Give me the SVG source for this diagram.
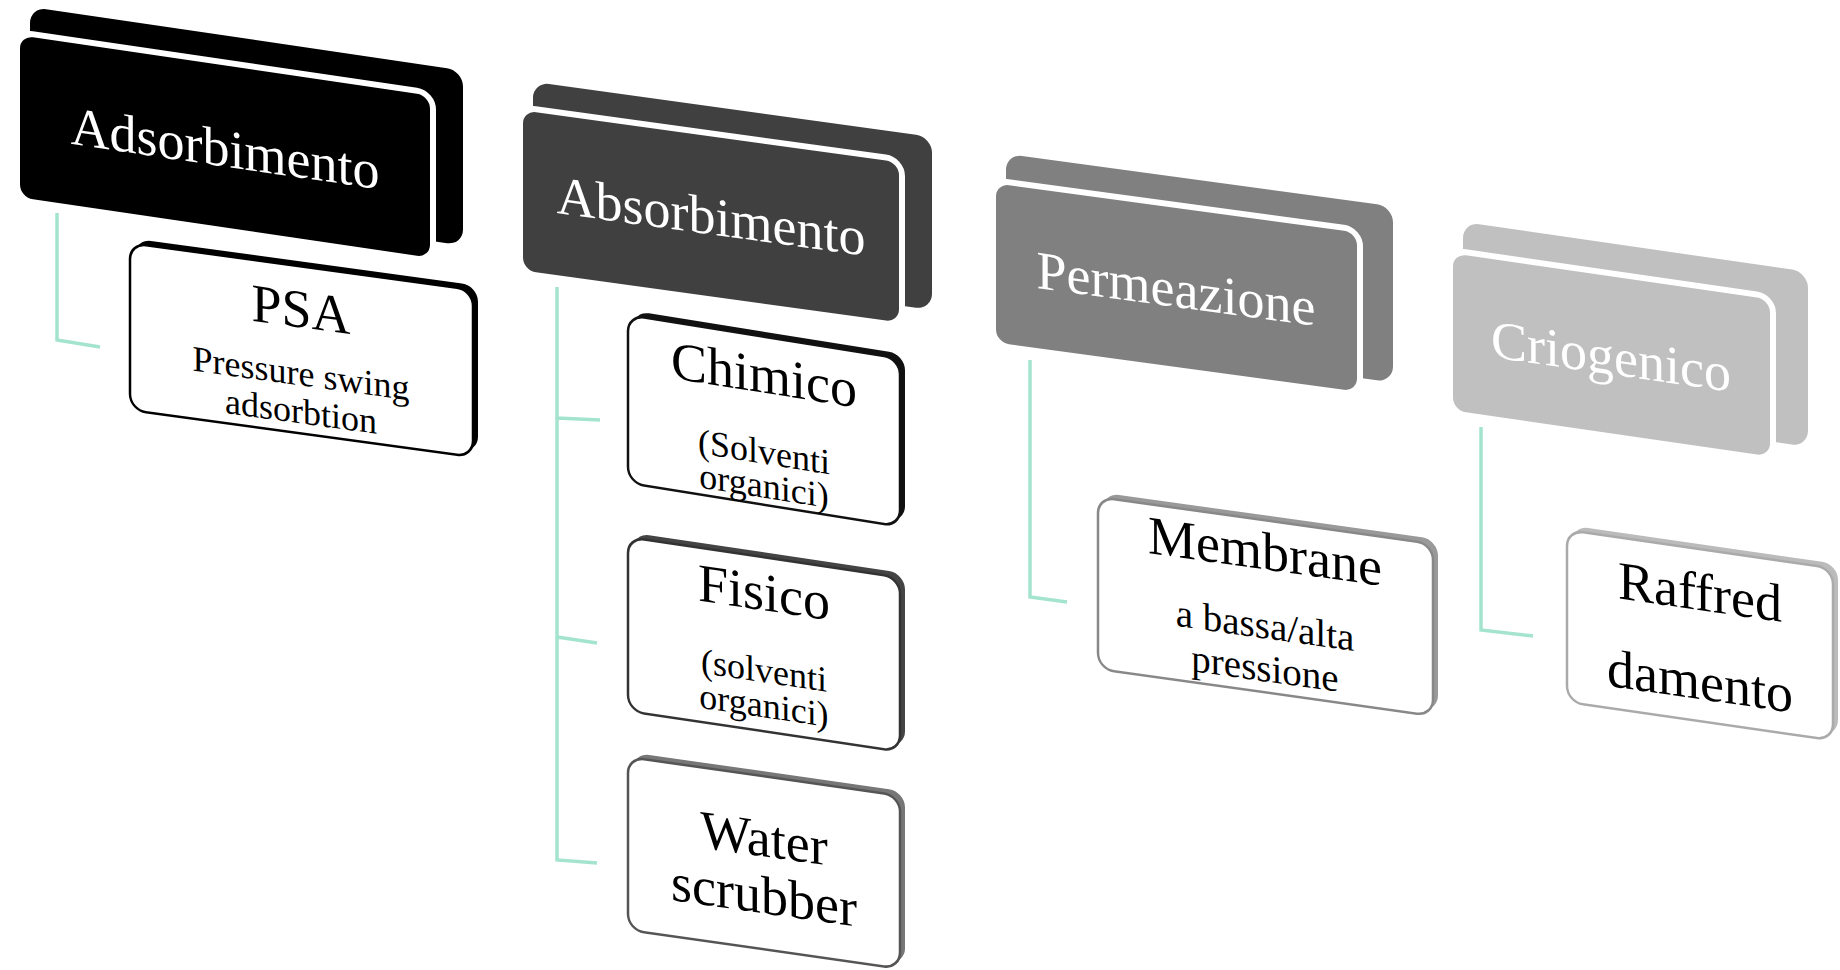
<svg xmlns="http://www.w3.org/2000/svg" width="1840" height="970" viewBox="0 0 1840 970">
<style>
text{font-family:"Liberation Serif","Times New Roman",serif;text-anchor:middle}
.hdr text{font-size:54px;fill:#fff}
.ch text{fill:#000}
.t{font-size:54px}
.s{font-size:36px}
.s2{font-size:39px}
.front{stroke:#fff;stroke-width:6}
.card{fill:#fff;stroke-width:2.5}
.conn{fill:none;stroke:#a4e4cf;stroke-width:3.5}
</style>
<rect width="1840" height="970" fill="#fff"/>
<g id="connectors" class="conn">
<path d="M57,213 V340 L100,347"/>
<path d="M557,287 V860 L597,863 M557,418 L600,420 M557,637 L597,643"/>
<path d="M1030,360 V597 L1067,602"/>
<path d="M1481,427 V630 L1533,636"/>
</g>
<g id="adsorbimento" class="hdr" transform="translate(17,32) skewY(8.36)">
<rect x="13" y="-27" width="433" height="175" rx="16" fill="#000"/>
<rect class="front" width="416" height="168" rx="16" fill="#000"/>
<text x="208" y="104">Adsorbimento</text>
</g>
<g id="absorbimento" class="hdr" transform="translate(520,107) skewY(7.86)">
<rect x="13" y="-27" width="399" height="173" rx="16" fill="#404040"/>
<rect class="front" width="382" height="166" rx="16" fill="#404040"/>
<text x="191" y="101">Absorbimento</text>
</g>
<g id="permeazione" class="hdr" transform="translate(993,180) skewY(7.75)">
<rect x="13" y="-28" width="387" height="176" rx="16" fill="#808080"/>
<rect class="front" width="367" height="165" rx="16" fill="#808080"/>
<text x="183" y="102">Permeazione</text>
</g>
<g id="criogenico" class="hdr" transform="translate(1450,250) skewY(8.25)">
<rect x="13" y="-30" width="345" height="175" rx="16" fill="#c0c0c0"/>
<rect class="front" width="323" height="163" rx="16" fill="#c0c0c0"/>
<text x="161" y="101">Criogenico</text>
</g>
<g id="psa" class="ch" transform="translate(130,243) skewY(7.8)">
<rect x="5" y="-5" width="343" height="167" rx="16" fill="#000"/>
<rect class="card" width="343" height="167" rx="16" stroke="#000"/>
<text class="t" x="171" y="61">PSA</text>
<text class="s" x="171" y="119">Pressure swing</text>
<text class="s" x="171" y="157">adsorbtion</text>
</g>
<g id="chimico" class="ch" transform="translate(628,315) skewY(9.1)">
<rect x="5" y="-5" width="272" height="168" rx="16" fill="#111"/>
<rect class="card" width="272" height="168" rx="16" stroke="#111"/>
<text class="t" x="136" y="56">Chimico</text>
<text class="s" x="136" y="127">(Solventi</text>
<text class="s" x="136" y="161">organici)</text>
</g>
<g id="fisico" class="ch" transform="translate(628,537) skewY(8.5)">
<rect x="5" y="-5" width="272" height="174" rx="16" fill="#444"/>
<rect class="card" width="272" height="174" rx="16" stroke="#333"/>
<text class="t" x="136" y="53">Fisico</text>
<text class="s" x="136" y="125">(solventi</text>
<text class="s" x="136" y="160">organici)</text>
</g>
<g id="water-scrubber" class="ch" transform="translate(628,757) skewY(8.1)">
<rect x="5" y="-5" width="272" height="173" rx="16" fill="#777"/>
<rect class="card" width="272" height="173" rx="16" stroke="#555"/>
<text class="t" x="136" y="80">Water</text>
<text class="t" x="136" y="137">scrubber</text>
</g>
<g id="membrane" class="ch" transform="translate(1098,497) skewY(7.97)">
<rect x="5" y="-5" width="335" height="172" rx="16" fill="#999"/>
<rect class="card" width="335" height="172" rx="16" stroke="#888"/>
<text class="t" x="167" y="49">Membrane</text>
<text class="s2" x="167" y="118">a bassa/alta</text>
<text class="s2" x="167" y="161">pressione</text>
</g>
<g id="raffreddamento" class="ch" transform="translate(1567,530) skewY(8.2)">
<rect x="5" y="-5" width="266" height="172" rx="16" fill="#bbb"/>
<rect class="card" width="266" height="172" rx="16" stroke="#aaa"/>
<text class="t" x="133" y="61">Raffred</text>
<text class="t" x="133" y="150">damento</text>
</g>
</svg>
